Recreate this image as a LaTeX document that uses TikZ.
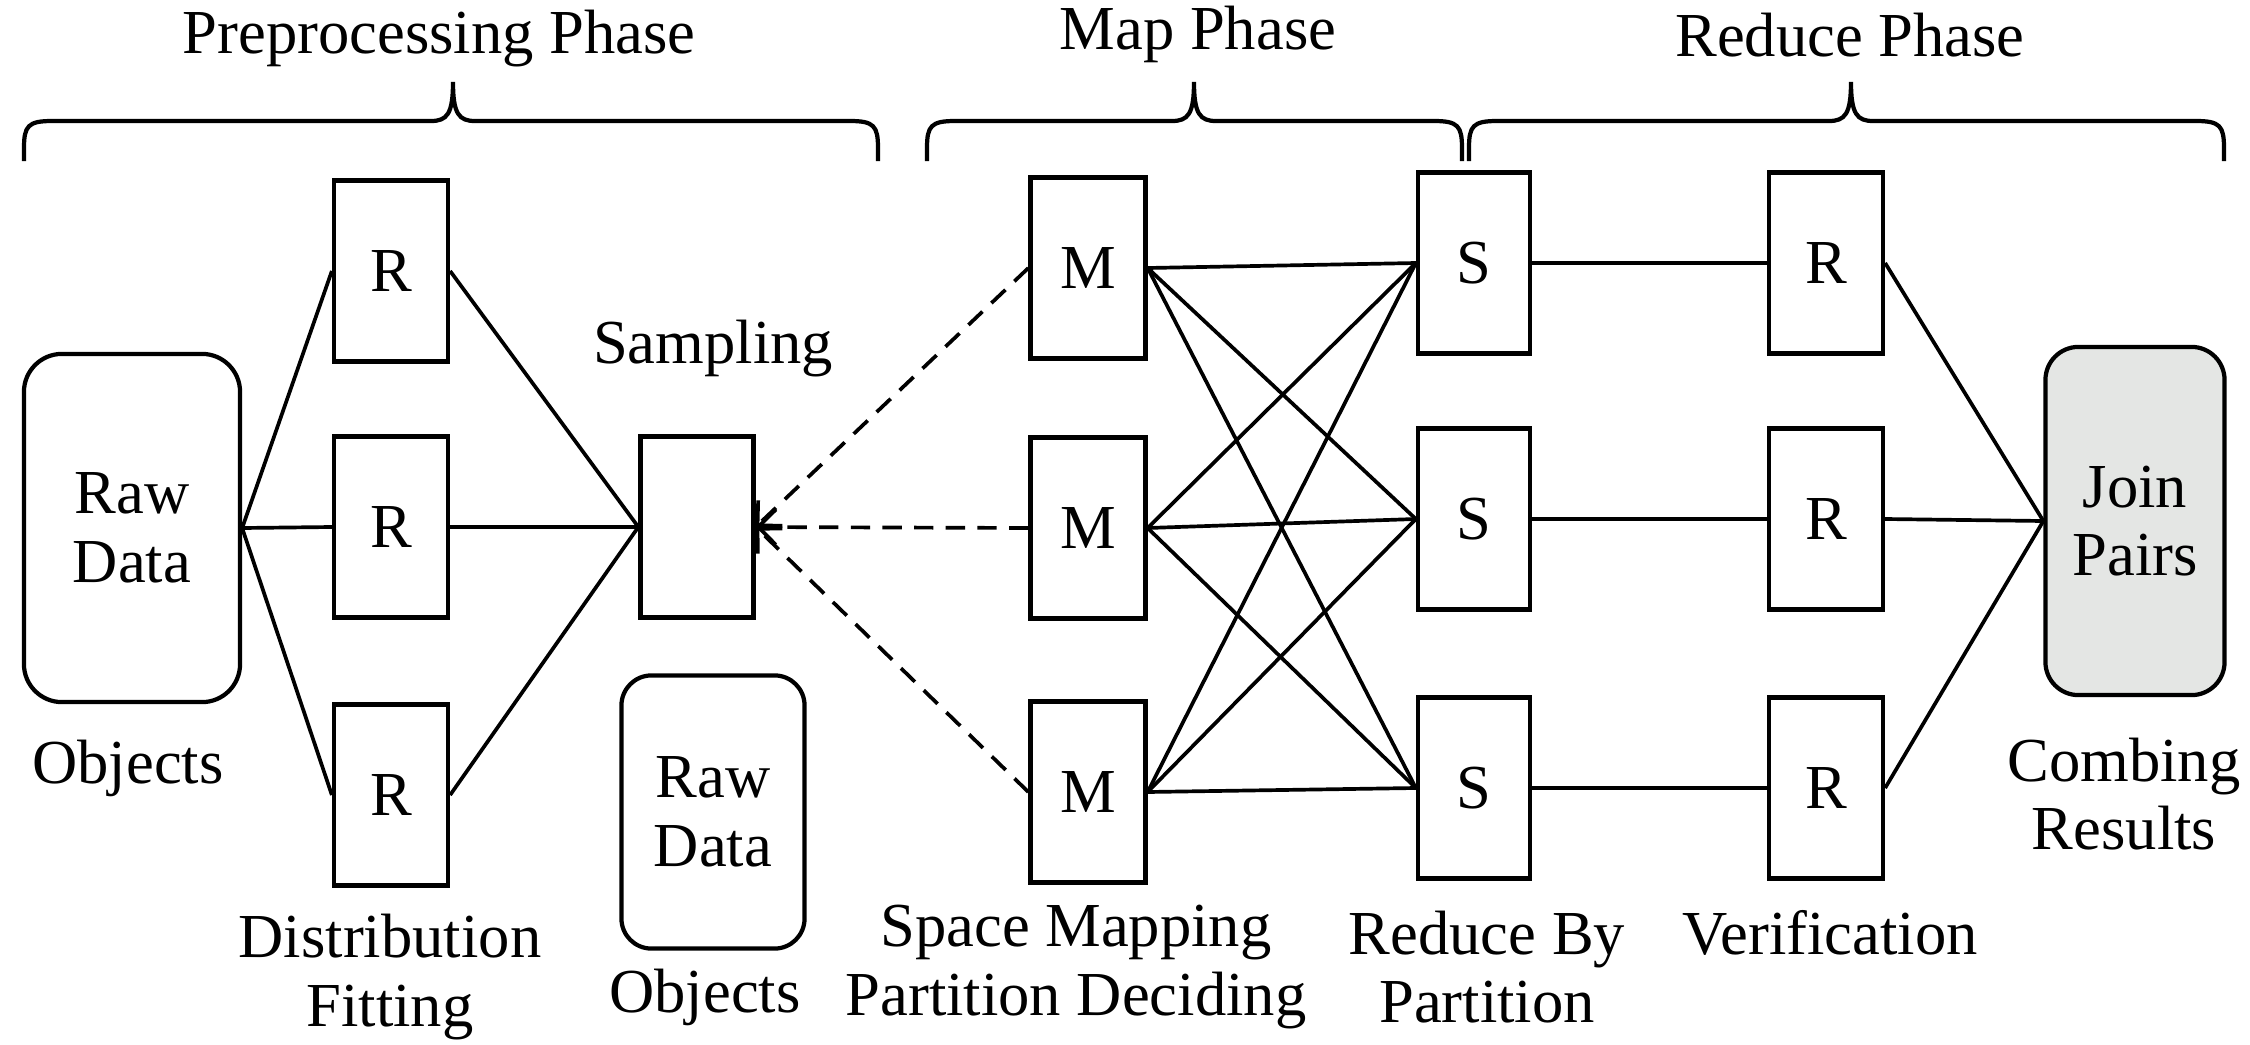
\documentclass[tikz,border=0pt]{standalone}
\usepackage{fontspec}
\setmainfont{Liberation Serif}
\usetikzlibrary{arrows.meta}
\newcommand{\phasebrace}[3]{\draw[line width=1.2pt] (#1,161) -- (#1,148) .. controls (#1,126) and (#1+4,121) .. (#1+28,121) -- (#2-22,121) .. controls (#2-6,121) and (#2,114) .. (#2,82) .. controls (#2,114) and (#2+6,121) .. (#2+22,121) -- (#3-28,121) .. controls (#3-4,121) and (#3,126) .. (#3,148) -- (#3,161);}
\begin{document}
\begin{tikzpicture}[x=0.01cm,y=-0.01cm,
  every node/.style={font=\fontsize{17.8}{19.5}\selectfont, align=center, inner sep=0pt},
  box/.style={draw, line width=1.2pt, minimum width=1.14cm, minimum height=1.81cm},
  rbox/.style={draw, line width=1.2pt, rounded corners=0.35cm},
  conn/.style={line width=1.05pt},
  dconn/.style={line width=1.05pt, dash pattern=on 5.5pt off 3.5pt, -{Straight Barb[length=5pt,width=10pt]}}
]
\useasboundingbox (0,0) rectangle (2250,1045);

% braces and phase titles
\phasebrace{24}{453}{878}
\phasebrace{927}{1194}{1462}
\phasebrace{1469}{1851}{2224}
\node[anchor=base] (tpre) at (439,53) {Preprocessing Phase};
\node[anchor=base] (tmap) at (1198,49) {Map Phase};
\node[anchor=base] (tred) at (1850,56) {Reduce Phase};

% preprocessing
\node[rbox, minimum width=2.16cm, minimum height=3.48cm, rounded corners=0.38cm] (raw1) at (132,528) {Raw\\Data};
\node[box] (r1) at (391,271) {R};
\node[box] (r2) at (391,527) {R};
\node[box] (r3) at (391,795) {R};
\node[box, minimum width=1.13cm] (samp) at (697,527) {};
\node[rbox, minimum width=1.83cm, minimum height=2.73cm, rounded corners=0.3cm] (raw2) at (713,812) {Raw\\Data};

% map
\node[box, minimum width=1.15cm] (m1) at (1088,268) {M};
\node[box, minimum width=1.15cm] (m2) at (1088,528) {M};
\node[box, minimum width=1.15cm] (m3) at (1088,792) {M};

% reduce
\node[box, minimum width=1.12cm] (s1) at (1474,263) {S};
\node[box, minimum width=1.12cm] (s2) at (1474,519) {S};
\node[box, minimum width=1.12cm] (s3) at (1474,788) {S};
\node[box] (v1) at (1826,263) {R};
\node[box] (v2) at (1826,519) {R};
\node[box] (v3) at (1826,788) {R};
\node[rbox, fill={rgb,255:red,228;green,230;blue,228}, minimum width=1.79cm, minimum height=3.48cm, rounded corners=0.33cm] (join) at (2135,521) {Join\\Pairs};

% labels
\node (lobj1) at (128,768) {Objects};
\node (lsamp) at (713,349) {Sampling};
\node (lobj2) at (705,997) {Objects};
\node (ldist) at (390,977) {Distribution\\Fitting};
\node (lspace) at (1076,967) {Space Mapping\\Partition Deciding};
\node (lrbp) at (1487,967) {Reduce By\\Partition};
\node (lver) at (1830,933) {Verification};
\node (lcomb) at (2124,794) {Combing\\Results};

% connectors
\foreach \r in {r1,r2,r3} {
  \draw[conn] (raw1.east) -- (\r.west);
  \draw[conn] (\r.east) -- (samp.west);
}
\foreach \m in {m1,m2,m3} {
  \draw[dconn] (\m.west) -- (samp.east);
  \foreach \s in {s1,s2,s3} {
    \draw[conn] (\m.east) -- (\s.west);
  }
}
\draw[conn] (s1.east) -- (v1.west);
\draw[conn] (s2.east) -- (v2.west);
\draw[conn] (s3.east) -- (v3.west);
\foreach \v in {v1,v2,v3} {
  \draw[conn] (\v.east) -- (join.west);
}
\end{tikzpicture}
\end{document}
